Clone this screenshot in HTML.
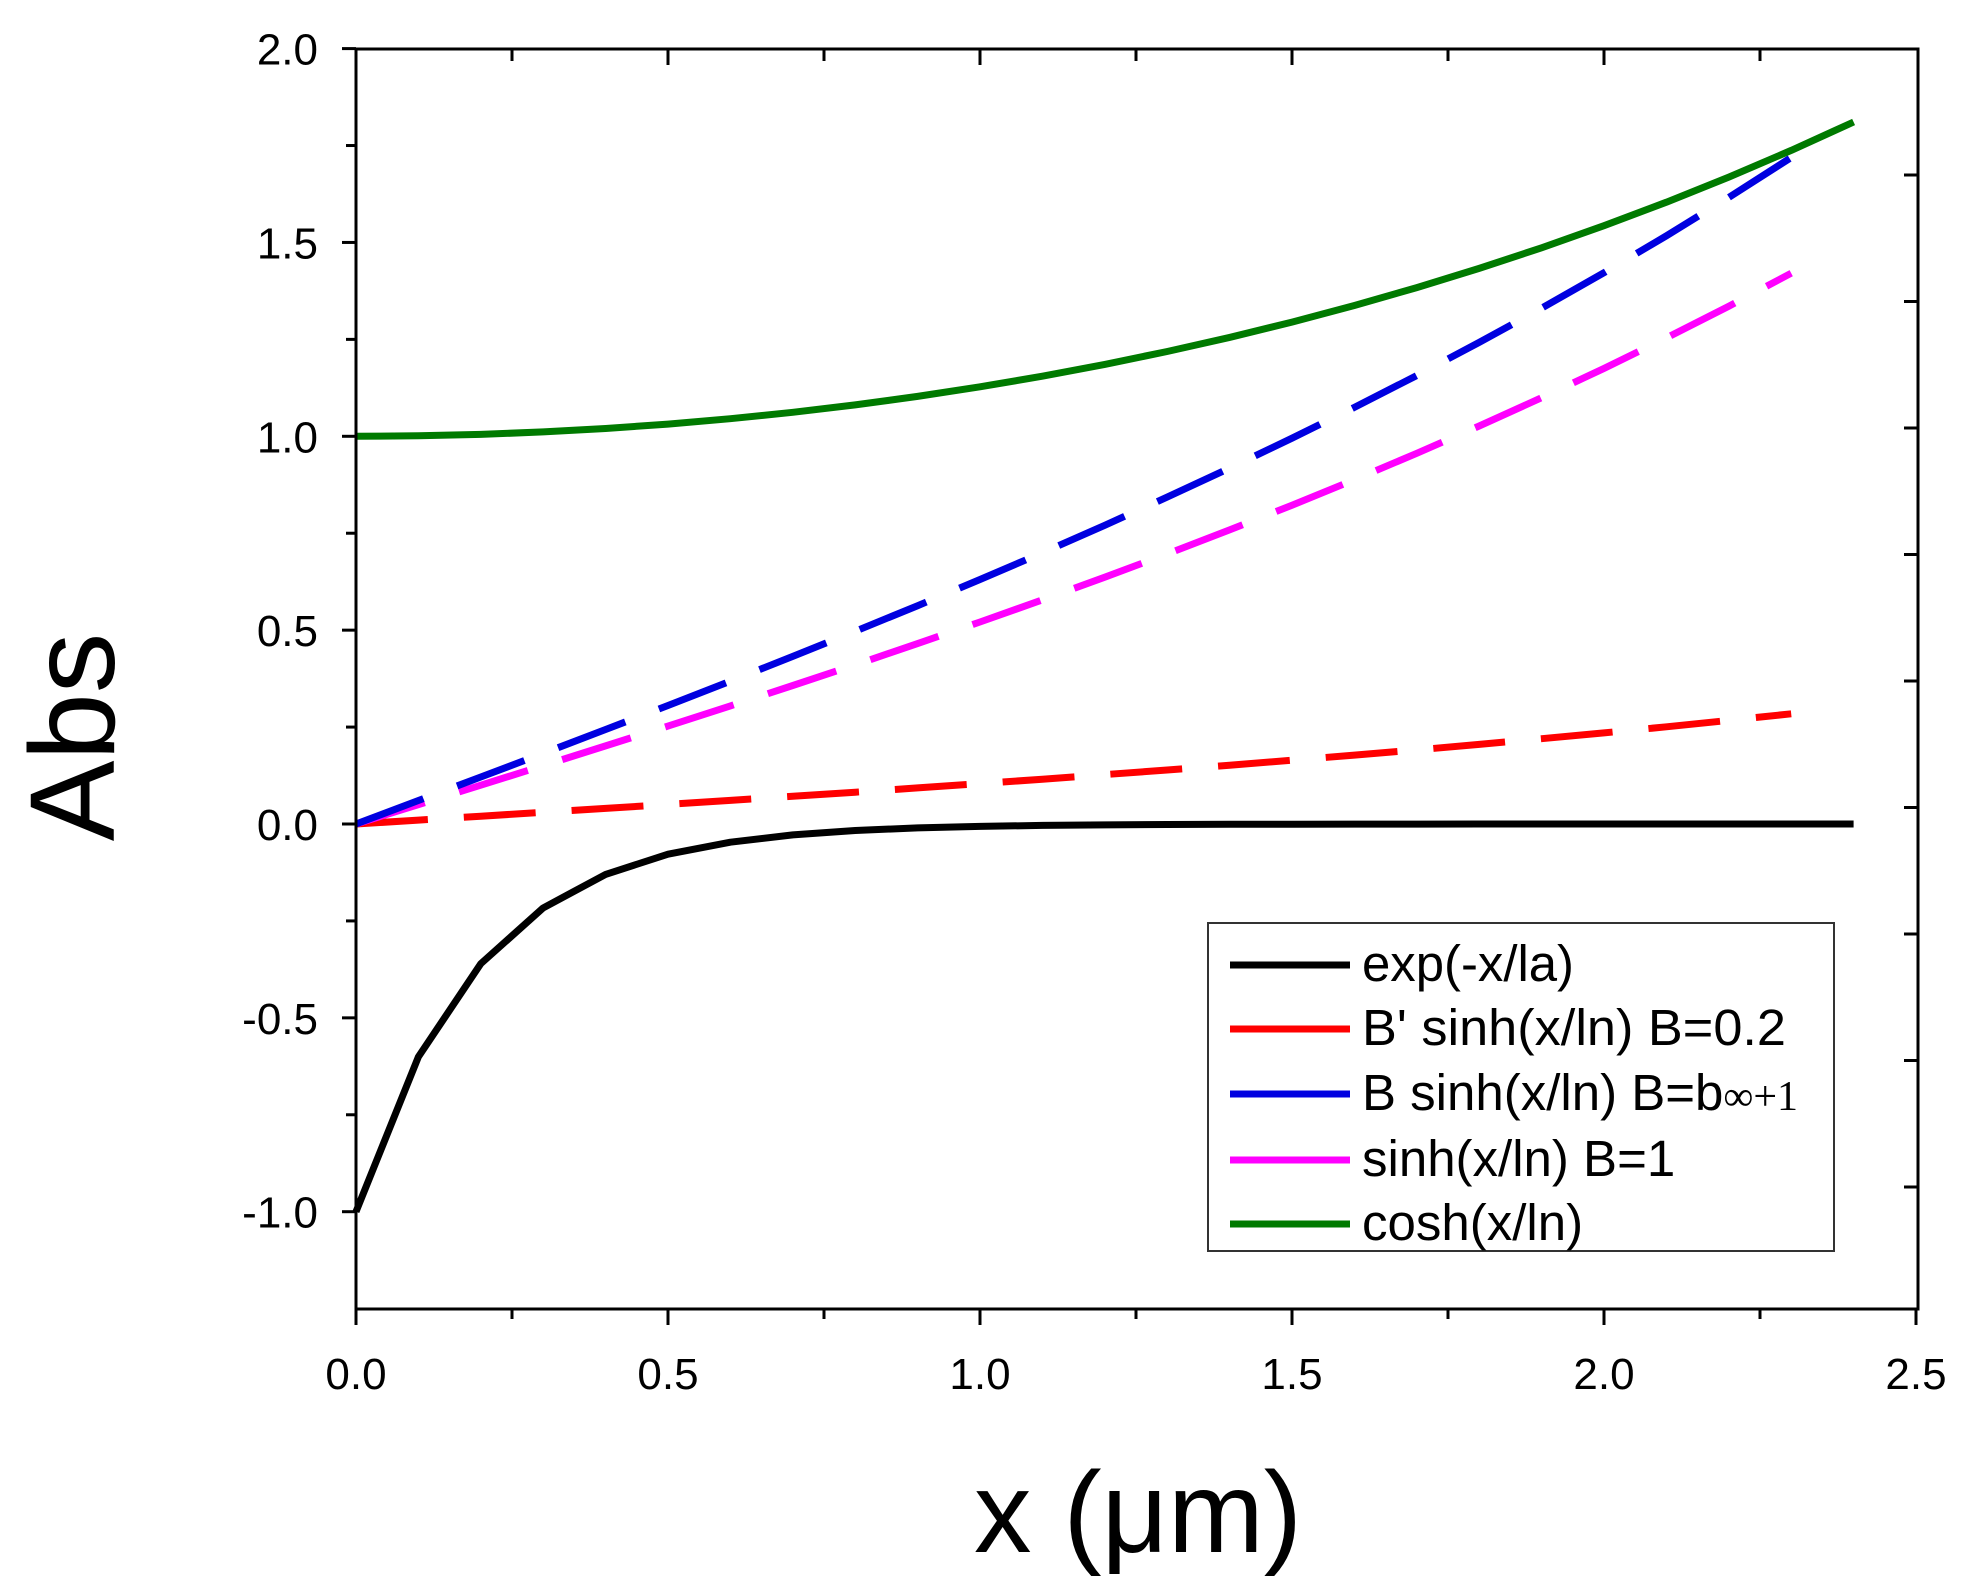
<!DOCTYPE html>
<html><head><meta charset="utf-8"><style>
html,body{margin:0;padding:0;background:#fff;}
svg{display:block;font-family:"Liberation Sans",Arial,sans-serif;}
</style></head><body>
<svg id="s" width="1973" height="1595" viewBox="0 0 1973 1595" xmlns="http://www.w3.org/2000/svg">
<rect width="1973" height="1595" fill="#fff"/>
<g id="curves" fill="none" stroke-width="7" stroke-linejoin="round"></g>
<g id="ax" stroke="#000" stroke-width="3" fill="none">
<rect x="356" y="49" width="1562" height="1260"/>
</g>
<g id="lab" font-size="44" fill="#000"></g>
<text x="72" y="737" font-size="121" text-anchor="middle" transform="rotate(-90 72 737)" dominant-baseline="central">Abs</text>
<text x="1138" y="1552" font-size="115" text-anchor="middle">x (μm)</text>
<g>
<rect x="1208" y="923" width="626" height="328" fill="#fff" stroke="#333" stroke-width="2"/>
<g stroke-width="7">
<line x1="1230" y1="965" x2="1350" y2="965" stroke="#000"/>
<line x1="1230" y1="1029" x2="1350" y2="1029" stroke="#f00"/>
<line x1="1230" y1="1094" x2="1350" y2="1094" stroke="#0000e0"/>
<line x1="1230" y1="1160" x2="1350" y2="1160" stroke="#f0f"/>
<line x1="1230" y1="1224" x2="1350" y2="1224" stroke="#007a00"/>
</g>
<g font-size="51" fill="#000">
<text x="1362" y="981" textLength="212" lengthAdjust="spacingAndGlyphs">exp(-x/la)</text>
<text x="1362" y="1045" textLength="424" lengthAdjust="spacingAndGlyphs">B' sinh(x/ln) B=0.2</text>
<text x="1362" y="1110">B sinh(x/ln) B=b<tspan font-family="Liberation Serif,serif" font-size="42">∞+1</tspan></text>
<text x="1362" y="1176">sinh(x/ln) B=1</text>
<text x="1362" y="1240">cosh(x/ln)</text>
</g>
</g>
</svg>
<script>
var NS="http://www.w3.org/2000/svg";
function X(x){return 356+x*624;} function Y(y){return 824-y*387.7;}
function el(p,t,a){var e=document.createElementNS(NS,t);for(var k in a)e.setAttribute(k,a[k]);p.appendChild(e);return e;}
var cg=document.getElementById('curves');
function series(f,xmax,col,dash){var pts=[];for(var i=0;i<=Math.round(xmax*10);i++){var x=i/10;pts.push(X(x).toFixed(1)+','+Y(f(x)).toFixed(1));}
var a={points:pts.join(' '),stroke:col};if(dash)a['stroke-dasharray']='72,36';el(cg,'polyline',a);}
series(function(x){return 0.2*Math.sinh(x/2)},2.3,'#f00',1);
series(function(x){return Math.sinh(x/2)},2.3,'#f0f',1);
series(function(x){return 1.21*Math.sinh(x/2)},2.3,'#0000e0',1);
series(function(x){return -Math.exp(-x/0.196)},2.4,'#000',0);
series(function(x){return Math.cosh(x/2)},2.4,'#007a00',0);
var ax=document.getElementById('ax'),lab=document.getElementById('lab');
for(var i=0;i<=10;i++){var x=X(i*0.25);var major=i%2==0;
 el(ax,'line',{x1:x,y1:1309,x2:x,y2:1309+(major?16:10)});
 if(i>0&&i<10)el(ax,'line',{x1:x,y1:49,x2:x,y2:49+(major?16:12)});
 if(major){var t=el(lab,'text',{x:x,y:1389,'text-anchor':'middle'});t.textContent=(i*0.25).toFixed(1);}}
for(var j=0;j<=12;j++){var v=2-j*0.25;var y=Y(v);var major=j%2==0;
 el(ax,'line',{x1:356,y1:y,x2:356-(major?14:10),y2:y});
 if(major&&v>=-1){var t=el(lab,'text',{x:318,y:y+16,'text-anchor':'end'});t.textContent=v.toFixed(1);}}
for(var k=0;k<=8;k++){var y=175+126.5*k;el(ax,'line',{x1:1918,y1:y,x2:1904,y2:y});}
</script>
</body></html>
